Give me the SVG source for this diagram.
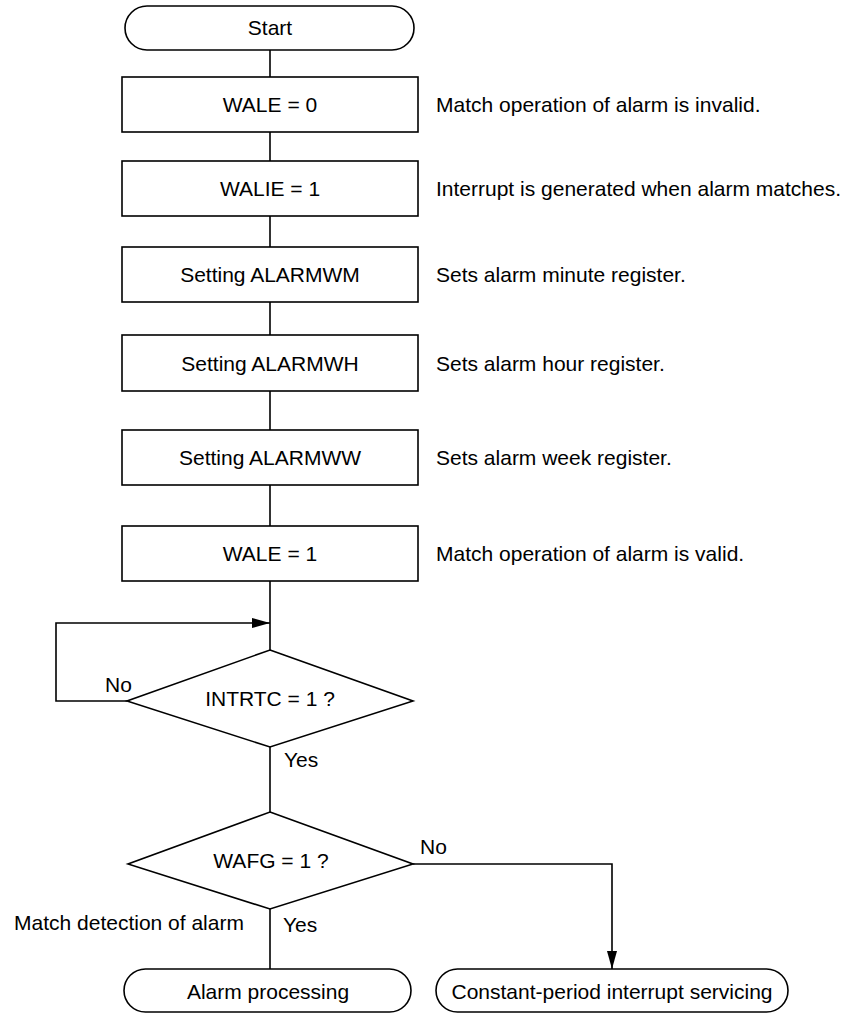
<svg xmlns="http://www.w3.org/2000/svg" width="849" height="1014" viewBox="0 0 849 1014">
<defs>
<marker id="arr" markerWidth="18" markerHeight="10" refX="18" refY="5" orient="auto" markerUnits="userSpaceOnUse">
<path d="M0,0 L18,5 L0,10 Z" fill="#000"/>
</marker>
<style>
.s{fill:#fff;stroke:#000;stroke-width:1.6}
.l{fill:none;stroke:#000;stroke-width:1.6}
text{font-family:"Liberation Sans",Arial,sans-serif;font-size:21px;fill:#000}
.c{text-anchor:middle}
</style>
</defs>
<rect width="849" height="1014" fill="#fff"/>
<g id="connectors">
<line class="l" x1="270" y1="50" x2="270" y2="77"/>
<line class="l" x1="270" y1="132" x2="270" y2="161"/>
<line class="l" x1="270" y1="216" x2="270" y2="247"/>
<line class="l" x1="270" y1="302" x2="270" y2="335"/>
<line class="l" x1="270" y1="391" x2="270" y2="430"/>
<line class="l" x1="270" y1="485" x2="270" y2="526"/>
<line class="l" x1="270" y1="581" x2="270" y2="650"/>
<polyline class="l" points="127,701 56,701 56,623 270,623" marker-end="url(#arr)"/>
<line class="l" x1="270" y1="747" x2="270" y2="812"/>
<line class="l" x1="270" y1="909" x2="270" y2="969"/>
<polyline class="l" points="413,864 612,864 612,969" marker-end="url(#arr)"/>
<text x="105" y="692">No</text>
<text x="284" y="767">Yes</text>
<text x="420" y="854">No</text>
<text x="283" y="932">Yes</text>
<text x="14" y="930">Match detection of alarm</text>
</g>
<g id="start">
<rect class="s" x="125" y="6" width="289" height="44" rx="22"/>
<text class="c" x="270" y="35">Start</text>
</g>
<g id="wale0">
<rect class="s" x="122" y="77" width="296" height="55"/>
<text class="c" x="270" y="112">WALE = 0</text>
<text x="436" y="112">Match operation of alarm is invalid.</text>
</g>
<g id="walie1">
<rect class="s" x="122" y="161" width="296" height="55"/>
<text class="c" x="270" y="196">WALIE = 1</text>
<text x="436" y="196">Interrupt is generated when alarm matches.</text>
</g>
<g id="alarmwm">
<rect class="s" x="122" y="247" width="296" height="55"/>
<text class="c" x="270" y="282">Setting ALARMWM</text>
<text x="436" y="282">Sets alarm minute register.</text>
</g>
<g id="alarmwh">
<rect class="s" x="122" y="335" width="296" height="56"/>
<text class="c" x="270" y="371">Setting ALARMWH</text>
<text x="436" y="371">Sets alarm hour register.</text>
</g>
<g id="alarmww">
<rect class="s" x="122" y="430" width="296" height="55"/>
<text class="c" x="270" y="465">Setting ALARMWW</text>
<text x="436" y="465">Sets alarm week register.</text>
</g>
<g id="wale1">
<rect class="s" x="122" y="526" width="296" height="55"/>
<text class="c" x="270" y="561">WALE = 1</text>
<text x="436" y="561">Match operation of alarm is valid.</text>
</g>
<g id="intrtc">
<polygon class="s" points="270,650 413,701 270,747 127,701"/>
<text class="c" x="270" y="706">INTRTC = 1 ?</text>
</g>
<g id="wafg">
<polygon class="s" points="270,812 413,864 270,909 128,864"/>
<text class="c" x="271" y="868">WAFG = 1 ?</text>
</g>
<g id="alarmproc">
<rect class="s" x="124" y="969" width="287" height="43" rx="21.5"/>
<text class="c" x="268" y="999">Alarm processing</text>
</g>
<g id="constproc">
<rect class="s" x="436" y="969" width="352" height="43" rx="21.5"/>
<text class="c" x="612" y="999">Constant-period interrupt servicing</text>
</g>
</svg>
